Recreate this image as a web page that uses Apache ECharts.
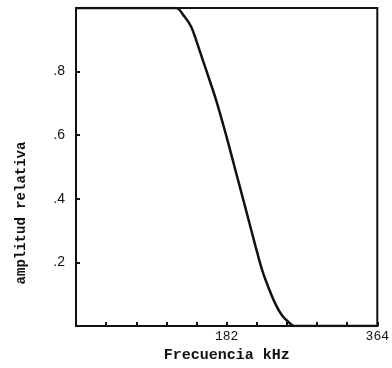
<!DOCTYPE html>
<html><head><meta charset="utf-8">
<script src="https://cdn.jsdelivr.net/npm/echarts@6/dist/echarts.min.js"></script>
<style>html,body{margin:0;padding:0;background:#fff}#c{width:392px;height:368px}</style>
</head><body><div id="c"></div>
<script>
var freqKHz = [0, 121, 131, 139, 145, 153, 161, 169, 177, 185, 193, 201, 209, 217, 225, 233, 241, 249, 257, 264, 364];
var amplitude = [1, 1, 0.973, 0.942, 0.90, 0.838, 0.776, 0.713, 0.641, 0.565, 0.486, 0.408, 0.329, 0.25, 0.175, 0.118, 0.069, 0.033, 0.012, 0, 0];
var xTickLabels = [182, 364];
var yTickLabels = {0.2: '.2', 0.4: '.4', 0.6: '.6', 0.8: '.8'};
var xName = 'Frecuencia kHz';
var yName = 'amplitud relativa';

var pts = freqKHz.map(function (f, i) { return [f, amplitude[i]]; });
var chart = echarts.init(document.getElementById('c'));
chart.setOption({
  backgroundColor: '#fff',
  animation: false,
  grid: {left: 76, right: 13, top: 8, bottom: 40, show: true, borderColor: '#111', borderWidth: 2, backgroundColor: 'transparent'},
  xAxis: {
    type: 'value', min: 0, max: 364, interval: 36.4,
    name: xName, nameLocation: 'middle', nameGap: 20,
    nameTextStyle: {fontFamily: 'Liberation Mono', fontSize: 15, fontWeight: 'bold', color: '#111'},
    axisLine: {lineStyle: {color: '#111', width: 2}},
    axisTick: {inside: true, length: 4, lineStyle: {color: '#111', width: 2}},
    splitLine: {show: false},
    axisLabel: {
      margin: 4, fontFamily: 'Liberation Mono', fontSize: 13, color: '#111',
      formatter: function (v) { var r = Math.round(v); return xTickLabels.indexOf(r) >= 0 ? String(r) : ''; }
    }
  },
  yAxis: {
    type: 'value', min: 0, max: 1, interval: 0.2,
    axisLine: {lineStyle: {color: '#111', width: 2}},
    axisTick: {inside: true, length: 4, lineStyle: {color: '#111', width: 2}},
    splitLine: {show: false},
    axisLabel: {
      margin: 11, fontFamily: 'Liberation Sans', fontSize: 14, color: '#111',
      formatter: function (v) { var k = Math.round(v * 10) / 10; return yTickLabels[k] || ''; }
    }
  },
  graphic: [{
    type: 'text', x: 21, y: 213, rotation: Math.PI / 2,
    style: {text: yName, fontFamily: 'Liberation Mono', fontSize: 14, fontWeight: 'bold', fill: '#111', textAlign: 'center', textVerticalAlign: 'middle'}
  }],
  series: [{
    type: 'line', data: pts, symbol: 'none', smooth: 0.3,
    lineStyle: {color: '#111', width: 2.5}
  }]
});
</script></body></html>
